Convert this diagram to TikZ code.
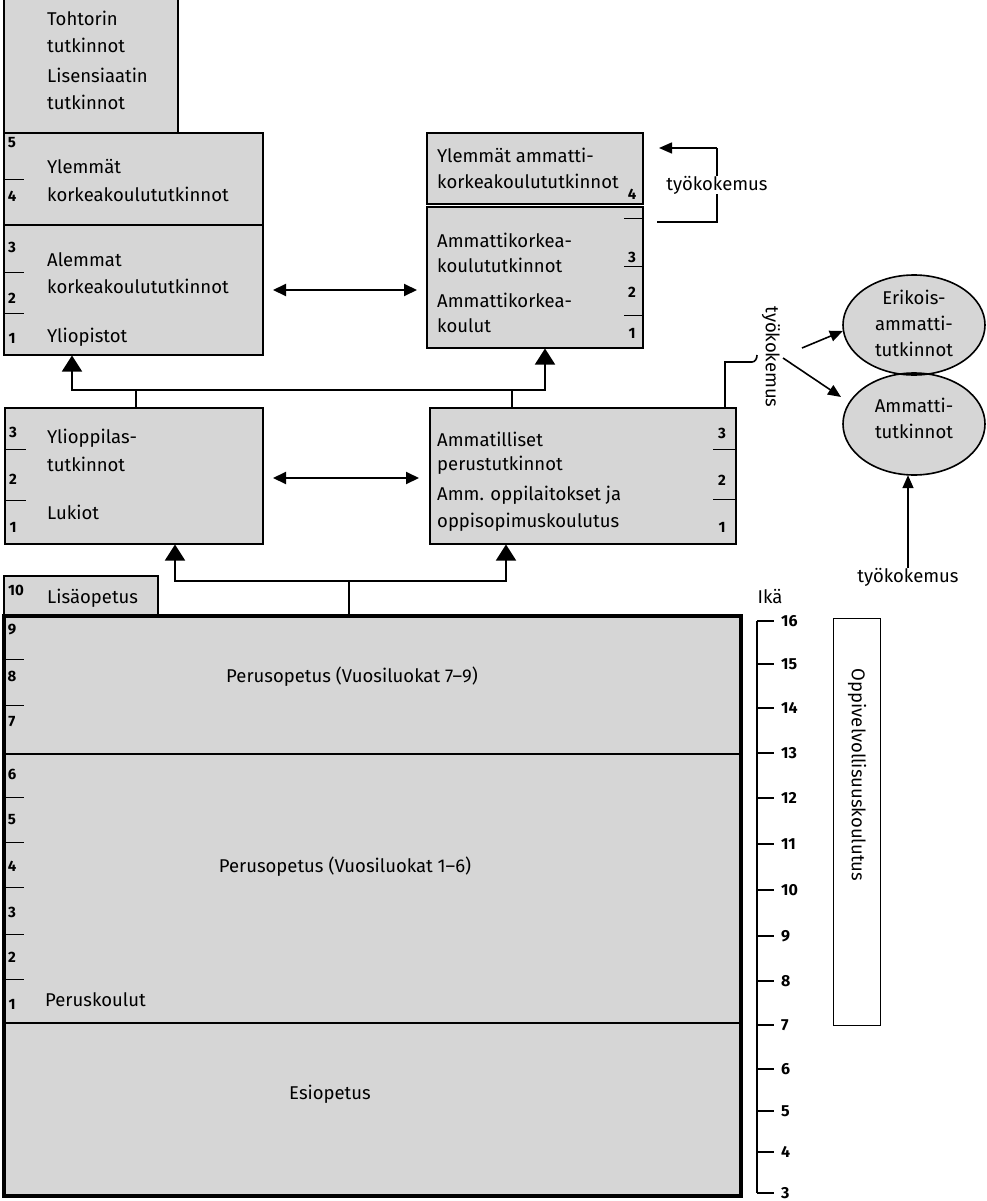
\documentclass[tikz,border=0pt]{standalone}
\usepackage{fontspec}
\setmainfont{Fira Sans}
\usetikzlibrary{arrows.meta,shapes.geometric}
\definecolor{boxgray}{gray}{0.84}
\begin{document}
\begin{tikzpicture}[x=1pt,y=-1pt,
  box/.style={draw,line width=2pt,fill=boxgray,inner sep=0pt,outer sep=0pt,anchor=north west,rectangle},
  lbl/.style={anchor=west,inner sep=0pt,font=\fontsize{18.5}{21}\selectfont},
  clbl/.style={inner sep=0pt,font=\fontsize{18.5}{26}\selectfont,align=center},
  num/.style={inner sep=0pt,font=\fontsize{15}{17}\selectfont\bfseries},
  rnum/.style={inner sep=0pt,anchor=west,font=\fontsize{16}{18}\selectfont\bfseries},
  tickline/.style={line width=1pt},
  conn/.style={line width=1.6pt},
  uparrow/.style={line width=1.6pt,-{Triangle[length=16pt,width=20pt]}},
  smallarrow/.style={line width=1.6pt,-{Triangle[length=13pt,width=11pt]}},
  dbl/.style={line width=2pt,{Triangle[length=13pt,width=12pt]}-{Triangle[length=13pt,width=12pt]}}
]
\useasboundingbox (0,0) rectangle (987,1201);

% ---------- boxes ----------
\node[box,minimum width=174pt,minimum height=138pt] (toht) at (4,-5) {};
\node[box,minimum width=259pt,minimum height=92pt] (ylem) at (4,133) {};
\node[box,minimum width=259pt,minimum height=130pt] (alem) at (4,225) {};
\node[box,minimum width=216pt,minimum height=71pt] (yamk) at (427,133) {};
\node[box,minimum width=216pt,minimum height=141pt] (amk) at (427,207) {};
\node[box,minimum width=258pt,minimum height=136pt] (luk) at (5,408) {};
\node[box,minimum width=306pt,minimum height=136pt] (amm) at (430,408) {};
\node[box,minimum width=154pt,minimum height=40pt] (lisa) at (4,576) {};
\node[box,line width=4pt,minimum width=737pt,minimum height=580pt] (perus) at (4,616) {};
\draw[line width=2pt] (4,754) -- (741,754);
\draw[line width=2pt] (4,1023) -- (741,1023);

% ---------- texts in boxes ----------
\node[lbl] (t1) at (47,18) {Tohtorin};
\node[lbl] (t2) at (47,45) {tutkinnot};
\node[lbl] (t3) at (47,75) {Lisensiaatin};
\node[lbl] (t4) at (47,102) {tutkinnot};

\node[num] (n5a) at (12,143) {5};
\draw[tickline] (4,180) -- (24,180);
\node[num] (n4a) at (12,196) {4};
\node[lbl] (t5) at (47,167) {Ylemmät};
\node[lbl] (t6) at (47,194) {korkeakoulututkinnot};

\node[num] (n3a) at (12,247) {3};
\draw[tickline] (4,272) -- (24,272);
\node[num] (n2a) at (12,298) {2};
\draw[tickline] (4,313) -- (24,313);
\node[num] (n1a) at (12,338) {1};
\node[lbl] (t7) at (47,260) {Alemmat};
\node[lbl] (t8) at (47,286) {korkeakoulututkinnot};
\node[lbl] (t9) at (47,337) {Yliopistot};

\node[lbl] (t10) at (437,155) {Ylemmät ammatti-};
\node[lbl] (t11) at (437,181) {korkeakoulututkinnot};
\node[num] (n4b) at (632,194) {4};

\draw[tickline] (624,218) -- (643,218);
\node[num] (n3b) at (632,257) {3};
\draw[tickline] (624,266) -- (643,266);
\node[num] (n2b) at (632,292) {2};
\draw[tickline] (624,315) -- (643,315);
\node[num] (n1b) at (632,333) {1};
\node[lbl] (t12) at (437,240) {Ammattikorkea-};
\node[lbl] (t13) at (437,265) {koulututkinnot};
\node[lbl] (t14) at (437,300) {Ammattikorkea-};
\node[lbl] (t15) at (437,326) {koulut};

\node[num] (n3c) at (13,432) {3};
\draw[tickline] (5,449) -- (26,449);
\node[num] (n2c) at (13,479) {2};
\draw[tickline] (5,500) -- (26,500);
\node[num] (n1c) at (13,527) {1};
\node[lbl] (t16) at (47,438) {Ylioppilas-};
\node[lbl] (t17) at (47,464) {tutkinnot};
\node[lbl] (t18) at (47,512) {Lukiot};

\node[num] (n3d) at (722,433) {3};
\draw[tickline] (713,449) -- (736,449);
\node[num] (n2d) at (722,480) {2};
\draw[tickline] (713,499) -- (736,499);
\node[num] (n1d) at (722,527) {1};
\node[lbl] (t19) at (437,439) {Ammatilliset};
\node[lbl] (t20) at (437,465) {perustutkinnot};
\node[lbl] (t21) at (437,495) {Amm. oppilaitokset ja};
\node[lbl] (t22) at (437,522) {oppisopimuskoulutus};

\node[num] (n10) at (16,590) {10};
\node[lbl] (t23) at (47,598) {Lisäopetus};

% big box numbers
\foreach \n/\y in {9/630,8/676,7/722,6/774,5/820,4/866,3/912,2/957,1/1004}
  \node[num] (pn\n) at (12,\y) {\n};
\foreach \y in {659,705,797,842,887,934,979}
  \draw[tickline] (4,\y) -- (24,\y);
\node[clbl] (t24) at (352,677) {Perusopetus (Vuosiluokat 7--9)};
\node[clbl] (t25) at (345,867) {Perusopetus (Vuosiluokat 1--6)};
\node[lbl] (t26) at (45,1000) {Peruskoulut};
\node[clbl] (t27) at (330,1094) {Esiopetus};

% ---------- double arrows ----------
\coordinate (da1) at (273,290);
\coordinate (da2) at (417,290);
\draw[dbl] (da1) -- (da2);
\coordinate (db1) at (273,478);
\coordinate (db2) at (419,478);
\draw[dbl] (db1) -- (db2);

% ---------- connectors row 2 -> row 3 ----------
\coordinate (j1) at (136,390);
\coordinate (j2) at (512,390);
\draw[conn] (luk.north -| j1) -- (j1);
\draw[conn] (amm.north -| j2) -- (j2);
\draw[uparrow] (j1) -| (72,355.5);
\draw[uparrow] (j1) -| (545,348.5);

% ---------- connectors base -> row 2 ----------
\coordinate (j3) at (349,581);
\draw[conn] (perus.north -| j3) -- (j3);
\draw[uparrow] (j3) -| (175,544.5);
\draw[uparrow] (j3) -| (506,544.5);

% ---------- työkokemus bracket at AMK ----------
\node[clbl] (tk1) at (717,185) {työkokemus};
\draw[conn] (tk1.north) -- (717,148);
\draw[smallarrow] (717,148) -- (659,148);
\draw[conn] (tk1.south) -- (717,222) -- (657,222);

% ---------- right side ----------
\node[ellipse,fill=boxgray,minimum width=142pt,minimum height=102pt,inner sep=0pt] (ammt) at (914,424) {};
\node[ellipse,fill=boxgray,minimum width=142pt,minimum height=100pt,inner sep=0pt] (erik) at (914,325) {};
\draw[line width=1.6pt] (erik.center) ellipse [x radius=71, y radius=50];
\draw[line width=1.6pt] (ammt.center) ellipse [x radius=71, y radius=51];
\node[clbl] (t28) at (914,323) {Erikois-\\ammatti-\\tutkinnot};
\node[clbl] (t29) at (914,418) {Ammatti-\\tutkinnot};

\node[clbl,rotate=-90] (tk2) at (771,357) {työkokemus};
\draw[conn] (amm.north -| 725,0) -- (725,362) -- (752,362) to[out=0,in=-90] (757,355);
\coordinate (ea) at (802,348);
\coordinate (eb) at (783,358);
\draw[smallarrow] (ea) -- (erik.west |- 0,331);
\draw[smallarrow] (eb) -- (841,397);

\node[clbl] (tk3) at (908,577) {työkokemus};
\draw[smallarrow] (tk3.north) -- (tk3.north |- ammt.south);

% ---------- age ruler ----------
\node[clbl] (ika) at (770,597) {Ikä};
\draw[line width=1.4pt] (757,621) -- (757,1193);
\foreach \a/\y in {16/621,15/664,14/708,13/753,12/798,11/844,10/890,9/936,8/981,7/1025,6/1069,5/1111,4/1152,3/1193}{
  \draw[line width=1.4pt] (757,\y) -- (774,\y);
  \node[rnum] (age\a) at (781,\y) {\a};
}
\node[draw,line width=1.4pt,fill=white,minimum width=47pt,minimum height=407pt,inner sep=0pt,anchor=north west] (oppi) at (833,618) {};
\node[clbl,rotate=-90] (t30) at (857,775) {Oppivelvollisuuskoulutus};
\end{tikzpicture}
\end{document}
